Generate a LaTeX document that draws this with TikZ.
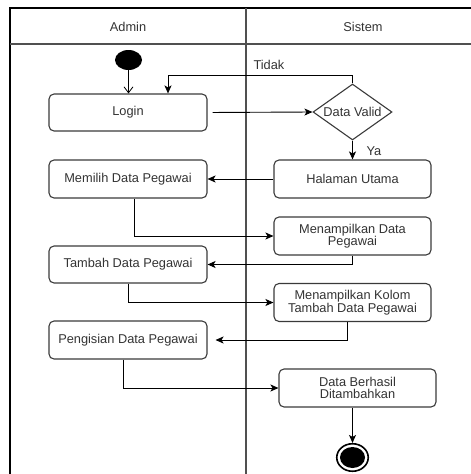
\documentclass[tikz,border=0pt]{standalone}
\usepackage{fontspec}
\setmainfont{Liberation Sans}
\usetikzlibrary{arrows.meta,shapes.geometric}
\definecolor{txt}{HTML}{333333}
\definecolor{edge}{HTML}{3A3A3A}
\definecolor{lane}{HTML}{505050}
\begin{document}
\begin{tikzpicture}[x=1pt,y=-1pt,
  lbl/.style={font=\fontsize{12.8}{12.5}\selectfont, text=txt},
  actbox/.style={draw=edge, line width=1.1pt, rounded corners=5pt, rectangle,
    minimum width=157pt, minimum height=37pt, inner sep=1pt, align=center,
    font=\fontsize{12.8}{12.5}\selectfont, text=txt},
  decide/.style={draw=edge, line width=1.1pt, diamond, aspect=1.41,
    minimum width=79pt, minimum height=56pt, inner sep=0pt,
    font=\fontsize{12.8}{12.5}\selectfont, text=txt},
  flow/.style={draw=black, line width=0.9pt, -{Stealth[length=8pt,width=7pt,inset=2pt]}},
  openflow/.style={draw=black, line width=0.8pt, -{Straight Barb[length=6pt,width=9pt]}},
  lanebar/.style={draw=lane, line width=1.4pt}
]
\useasboundingbox (0,0) rectangle (471,474);
% swimlane frame
\coordinate (tl) at (10,8);
\coordinate (tr) at (471,8);
\coordinate (bl) at (10,474);
\coordinate (hl) at (10,44);
\coordinate (hr) at (471,44);
\coordinate (dt) at (246,8);
\coordinate (db) at (246,474);
\draw[draw=black, line width=1.4pt] (tr) -- (tl) -- (bl);
\draw[lanebar] (hl) -- (hr);
\draw[lanebar] (dt) -- (db);
\node[lbl] (hadmin) at (128,27) {Admin};
\node[lbl] (hsistem) at (363,27) {Sistem};

% nodes
\node[ellipse, fill=black, minimum width=27pt, minimum height=20pt, inner sep=0pt] (start) at (128.5,60) {};
\node[actbox, minimum width=158pt] (login) at (128,112.5) {Login};
\node[decide] (valid) at (352.5,112) {Data Valid};
\node[actbox, minimum height=38pt] (halaman) at (352.5,179) {Halaman Utama};
\node[actbox, minimum width=158pt, minimum height=38pt] (memilih) at (128,179) {Memilih Data Pegawai};
\node[actbox, minimum height=38pt] (mendata) at (352.5,236) {Menampilkan Data\\Pegawai};
\node[actbox, minimum width=158pt] (tambah) at (128,264.5) {Tambah Data Pegawai};
\node[actbox, minimum height=38pt] (menkolom) at (352.5,302.5) {Menampilkan Kolom\\Tambah Data Pegawai};
\node[actbox, minimum width=158pt, minimum height=38pt] (pengisian) at (128,340) {Pengisian Data Pegawai};
\node[actbox, minimum height=38pt] (berhasil) at (357.5,388) {Data Berhasil\\Ditambahkan};
\node[ellipse, draw=black, line width=1.6pt, minimum width=31.5pt, minimum height=27.5pt, inner sep=0pt] (end) at (352.5,457.5) {};
\node[ellipse, fill=black, minimum width=25pt, minimum height=21pt, inner sep=0pt] (endin) at (end.center) {};

% connectors
\coordinate (tidakA) at (352.5,75.5);
\coordinate (tidakB) at (168,75.5);
\draw[openflow] (start) -- (login.north -| start);
\draw[flow] (valid.north) -- (tidakA) -- (tidakB) -- (tidakB |- login.north);
\node[lbl, anchor=south west] (tidak) at (250,73) {Tidak};
\draw[flow, shorten <=5pt] (login.east) -- (valid.west);
\draw[flow] (valid.south) -- (halaman.north);
\node[lbl, anchor=west] (ya) at (363,151) {Ya};
\draw[flow] (halaman.west) -- (memilih.east);
\draw[flow] ([xshift=6pt]memilih.south) |- (mendata.west);
\draw[flow] (mendata.south) |- (tambah.east);
\draw[flow] (tambah.south) |- (menkolom.west);
\draw[flow, shorten >=8pt] ([xshift=-5.5pt]menkolom.south) |- (pengisian.east);
\draw[flow] ([xshift=-5pt]pengisian.south) |- (berhasil.west);
\draw[flow] (berhasil.south -| end) -- (end.north);
\end{tikzpicture}
\end{document}
